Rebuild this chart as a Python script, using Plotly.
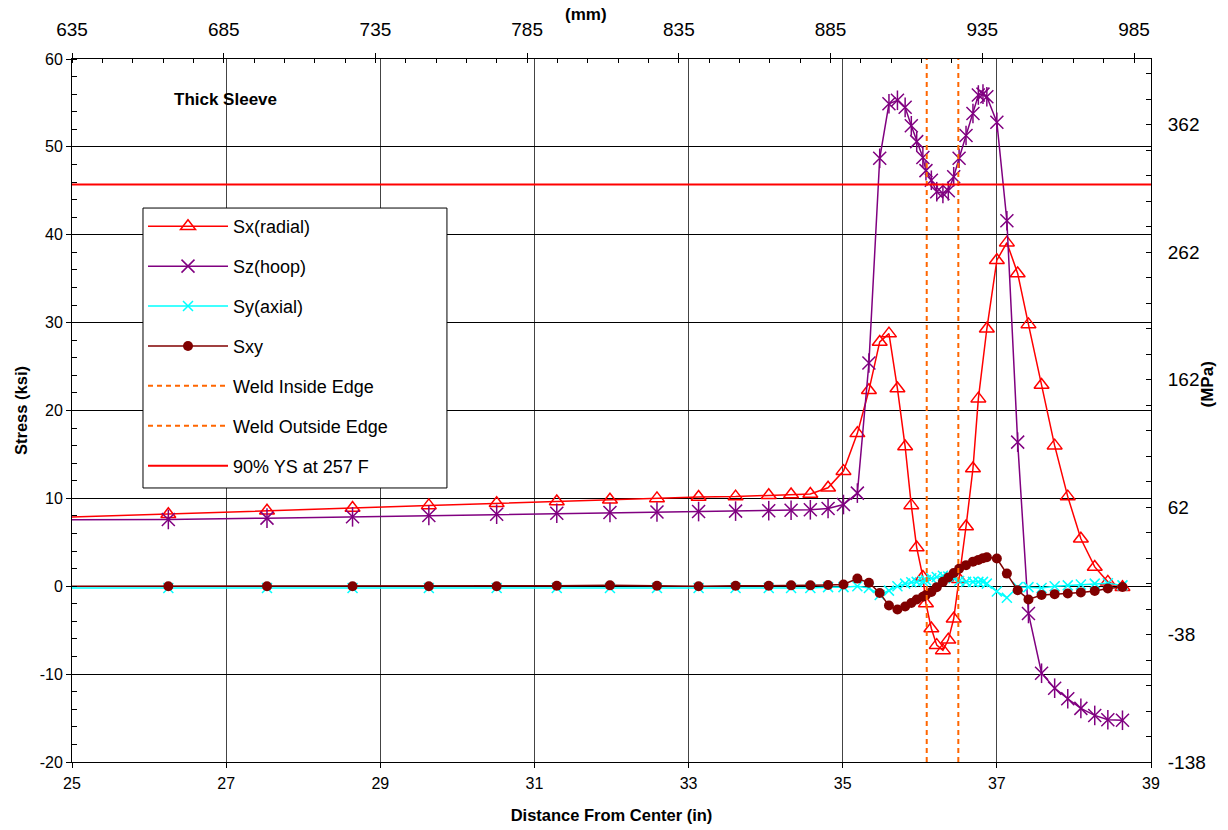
import plotly.graph_objects as go

# Unit conversions for the secondary (metric) axes
KSI_TO_MPA = 6.894757
IN_TO_MM = 25.4

# Distance from center (in) at each result node
x_in = [24.0, 26.25, 27.53, 28.64, 29.63, 30.51, 31.29, 31.98, 32.59, 33.13, 33.61,
        34.04, 34.33, 34.58, 34.81, 35.01, 35.19, 35.34, 35.48, 35.60, 35.71,
        35.81, 35.89, 35.96, 36.04, 36.08, 36.15, 36.22, 36.30, 36.37, 36.44,
        36.51, 36.60, 36.69, 36.76, 36.82, 36.87, 37.00, 37.13, 37.27, 37.41,
        37.58, 37.75, 37.92, 38.09, 38.27, 38.44, 38.63]

# Stress components (ksi)
sx_radial = [7.6, 8.2, 8.6, 8.9, 9.2, 9.45, 9.65, 9.85, 10.0, 10.15, 10.2,
             10.35, 10.45, 10.5, 11.2, 13.1, 17.4, 22.3, 27.8, 28.75, 22.5,
             15.9, 9.2, 4.4, 1.06, -1.97, -4.8, -6.7, -7.3, -6.1, -3.7,
             0.8, 6.8, 13.4, 21.35, None, 29.3, 37.1, 39.1, 35.6, 29.8,
             22.9, 16.0, 10.2, 5.4, 2.2, 0.5, -0.1]
sz_hoop = [7.55, 7.6, 7.75, 7.9, 8.05, 8.2, 8.3, 8.4, 8.45, 8.5, 8.55,
           8.6, 8.65, 8.7, 8.85, 9.3, 10.6, 25.4, 48.7, 54.9, 55.3,
           54.5, 52.4, 50.6, 48.8, 47.3, 46.2, 44.9, 44.7, 45.0, 46.6,
           48.7, 51.3, 53.8, 55.9, 56.0, 55.7, 52.8, 41.6, 16.4, -3.1,
           -9.9, -11.6, -12.8, -13.9, -14.7, -15.2, -15.25]
sy_axial = [-0.2, -0.2, -0.2, -0.2, -0.2, -0.2, -0.2, -0.2, -0.2, -0.2, -0.2,
            -0.2, -0.2, -0.2, -0.1, -0.1, 0.0, -0.2, -1.0, -0.5, 0.0,
            0.3, 0.45, 0.5, 0.6, 0.7, 0.9, 1.05, 1.2, 1.1, 0.9,
            0.6, 0.5, 0.5, 0.5, 0.5, 0.3, -0.6, -1.3, -0.1, -0.1,
            -0.2, 0.0, 0.1, 0.2, 0.3, 0.35, 0.1]
sxy = [0.0, 0.0, 0.0, 0.0, 0.0, 0.0, 0.05, 0.1, 0.05, 0.0, 0.05,
       0.05, 0.1, 0.1, 0.15, 0.2, 0.87, 0.4, -0.76, -2.2, -2.65,
       -2.3, -1.9, -1.5, -1.2, -1.0, -0.65, -0.1, 0.5, 1.0, 1.5,
       2.0, 2.4, 2.8, 3.0, 3.2, 3.3, 3.15, 1.44, -0.46, -1.5,
       -1.0, -0.9, -0.83, -0.7, -0.53, -0.26, -0.08]

# Weld edges (in) and yield-strength limit (ksi)
weld_inside_in = 36.09
weld_outside_in = 36.50
ys90_ksi = 45.7

# Axis extents and tick values
x_range = [25, 39]
y_range = [-20, 60]
x_ticks_in = [25, 27, 29, 31, 33, 35, 37, 39]
y_ticks_ksi = [-20, -10, 0, 10, 20, 30, 40, 50, 60]
x_ticks_mm = [635, 685, 735, 785, 835, 885, 935, 985]
y_ticks_mpa = [-138, -38, 62, 162, 262, 362]

RED = "#FF0000"
PURPLE = "#800080"
CYAN = "#00FFFF"
MAROON = "#800000"
ORANGE = "#FF6600"
FONT = "Arial, Liberation Sans, sans-serif"

fig = go.Figure()

fig.add_trace(go.Scatter(
    x=x_in, y=sx_radial, name="Sx(radial)", legendgroup="g1",
    mode="lines+markers", connectgaps=True,
    line=dict(color=RED, width=1.5),
    marker=dict(symbol="triangle-up-open", size=13, color=RED,
                line=dict(color=RED, width=1.5)),
))
fig.add_trace(go.Scatter(
    x=x_in, y=sz_hoop, name="Sz(hoop)", legendgroup="g2",
    mode="lines+markers",
    line=dict(color=PURPLE, width=1.5),
    marker=dict(symbol="x-thin-open", size=13, color=PURPLE,
                line=dict(color=PURPLE, width=1.5)),
))
# vertical stroke completing the six-armed star marker
fig.add_trace(go.Scatter(
    x=x_in, y=sz_hoop, legendgroup="g2", showlegend=False,
    mode="markers", hoverinfo="skip",
    marker=dict(symbol="line-ns-open", size=14, color=PURPLE,
                line=dict(color=PURPLE, width=1.5)),
))
fig.add_trace(go.Scatter(
    x=x_in, y=sy_axial, name="Sy(axial)", legendgroup="g3",
    mode="lines+markers",
    line=dict(color=CYAN, width=1.5),
    marker=dict(symbol="x-thin-open", size=10, color=CYAN,
                line=dict(color=CYAN, width=1.5)),
))
fig.add_trace(go.Scatter(
    x=x_in, y=sxy, name="Sxy", legendgroup="g4",
    mode="lines+markers",
    line=dict(color=MAROON, width=1.5),
    marker=dict(symbol="circle", size=10, color=MAROON),
))
fig.add_trace(go.Scatter(
    x=[weld_inside_in, weld_inside_in], y=y_range, name="Weld Inside Edge",
    legendgroup="g5", mode="lines",
    line=dict(color=ORANGE, width=2, dash="5px,4px"),
))
fig.add_trace(go.Scatter(
    x=[weld_outside_in, weld_outside_in], y=y_range, name="Weld Outside Edge",
    legendgroup="g6", mode="lines",
    line=dict(color=ORANGE, width=2, dash="5px,4px"),
))
# yield line drawn on the metric axes
fig.add_trace(go.Scatter(
    x=[v * IN_TO_MM for v in x_range],
    y=[ys90_ksi * KSI_TO_MPA] * 2,
    name="90% YS at 257 F", legendgroup="g7", mode="lines",
    xaxis="x2", yaxis="y2",
    line=dict(color=RED, width=2),
))

tickfont_in = dict(family=FONT, size=16, color="black")
tickfont_metric = dict(family=FONT, size=19, color="black")
titlefont = dict(family=FONT, size=16.5, color="black", weight="bold")


def labels(vals):
    # plain hyphen for negatives
    return [str(v) for v in vals]


# metric range spans the same stress interval as the ksi axis
mpa_span = (y_range[1] - y_range[0]) * KSI_TO_MPA
y2_range = [y_ticks_mpa[0], y_ticks_mpa[0] + mpa_span]

fig.update_layout(
    width=1228, height=830,
    margin=dict(l=72, r=77, t=59, b=68),
    paper_bgcolor="white", plot_bgcolor="white",
    font=dict(family=FONT, color="black"),
    xaxis=dict(
        range=x_range, tickvals=x_ticks_in, ticktext=labels(x_ticks_in),
        showgrid=True, gridcolor="#444444", automargin=False,
        gridwidth=1, zeroline=False, showline=True, linecolor="black",
        linewidth=1, ticks="outside", ticklen=5, tickcolor="black",
        tickfont=tickfont_in, ticklabelstandoff=2,
        title=dict(text="Distance From Center (in)", font=titlefont, standoff=18),
    ),
    yaxis=dict(
        range=y_range, tickvals=y_ticks_ksi, ticktext=labels(y_ticks_ksi),
        showgrid=True, gridcolor="black", automargin=False,
        gridwidth=1, zeroline=False, showline=True, linecolor="black",
        linewidth=1, ticks="outside", ticklen=5, tickcolor="black",
        minor=dict(dtick=2, tick0=0, ticks="inside", ticklen=5,
                   tickcolor="black", showgrid=False),
        tickfont=tickfont_in,
        title=dict(text="Stress (ksi)", font=titlefont, standoff=7),
    ),
    xaxis2=dict(
        overlaying="x", side="top", automargin=False,
        range=[v * IN_TO_MM for v in x_range],
        tickvals=x_ticks_mm, ticktext=labels(x_ticks_mm),
        showgrid=False, zeroline=False,
        showline=True, linecolor="black", linewidth=1,
        ticks="outside", ticklen=5, tickcolor="black",
        minor=dict(dtick=10, tick0=635, ticks="inside", ticklen=4,
                   tickcolor="black"),
        tickfont=tickfont_metric, ticklabelstandoff=9,
    ),
    yaxis2=dict(
        overlaying="y", side="right", anchor="x2", automargin=False,
        range=y2_range,
        tickvals=y_ticks_mpa, ticktext=labels(y_ticks_mpa),
        showgrid=False, zeroline=False, showline=True, linecolor="black",
        linewidth=1, ticks="inside", ticklen=5, tickcolor="black",
        minor=dict(dtick=20, tick0=-138, ticks="inside", ticklen=5,
                   tickcolor="black"),
        tickfont=tickfont_metric, ticklabelstandoff=12,
    ),
    legend=dict(
        x=0.0658, y=0.788, xanchor="left", yanchor="top",
        bgcolor="rgba(0,0,0,0)", borderwidth=0,
        font=dict(family=FONT, size=18, color="black"),
        traceorder="grouped", tracegroupgap=13.5, itemwidth=80,
    ),
    showlegend=True,
    # framed panel behind the legend entries
    shapes=[dict(
        type="rect", xref="paper", yref="paper", layer="above",
        x0=0.0658, x1=0.3475, y0=0.3898, y1=0.788,
        fillcolor="white", line=dict(color="black", width=1),
    )],
    annotations=[
        dict(text="<b>Thick Sleeve</b>", xref="paper", yref="paper",
             x=0.093, y=0.942, xanchor="left", yanchor="middle",
             showarrow=False, font=dict(family=FONT, size=17, color="black")),
        dict(text="<b>(mm)</b>", xref="paper", yref="paper",
             x=0.476, y=1.0, yshift=45, xanchor="center", yanchor="middle",
             showarrow=False, font=dict(family=FONT, size=17, color="black")),
        dict(text="<b>(MPa)</b>", xref="paper", yref="paper", textangle=-90,
             x=1.0, xshift=56, y=0.537, xanchor="center", yanchor="middle",
             showarrow=False, font=dict(family=FONT, size=17, color="black")),
    ],
)

fig.write_html("out.html")
